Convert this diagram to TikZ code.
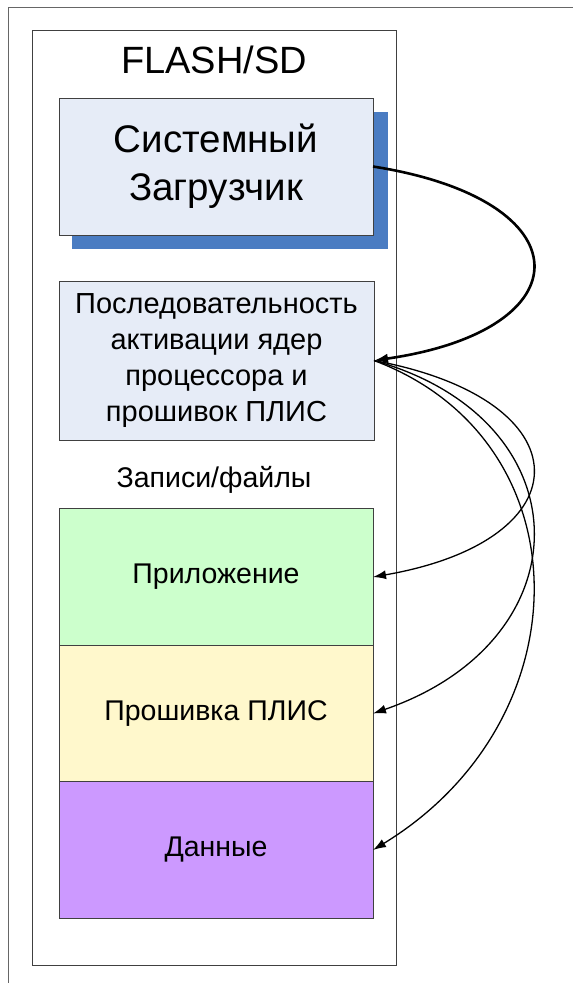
\documentclass[tikz,border=0pt]{standalone}
\usepackage{fontspec}
\setmainfont{Liberation Sans}
\usetikzlibrary{arrows.meta,positioning}

\definecolor{bootblue}{HTML}{E6ECF7}
\definecolor{shadowblue}{HTML}{4A7CC2}
\definecolor{appgreen}{HTML}{CCFFCC}
\definecolor{fpgayellow}{HTML}{FFF8CC}
\definecolor{datapurple}{HTML}{CC99FF}

\begin{document}
\begin{tikzpicture}[x=1pt,y=-1pt,
  blk/.style={draw=black!75,line width=0.8pt,inner sep=0pt,outer sep=0pt,align=center},
  rec/.style={blk,minimum width=314pt,minimum height=136.5pt,font=\fontsize{28.5}{34}\selectfont},
  link/.style={-{Latex[length=13pt,width=9pt]},line width=1.3pt},
  mainlink/.style={-{Latex[length=14pt,width=10pt]},line width=2.6pt}]
\useasboundingbox (0,0) rectangle (573,983);

% frame and container
\draw[black!60,line width=1pt] (8,983) -- (8,7) -- (573,7);
\draw[black!75,line width=0.8pt] (32,30) rectangle (396,965);
\node (flash) at (214,60) {\fontsize{38}{44}\selectfont FLASH/SD};

% boot loader with shadow
\fill[shadowblue] (72,112) rectangle (388,249);
\node[blk,fill=bootblue,minimum width=314pt,minimum height=137pt,
  font=\fontsize{38.5}{48}\selectfont] (boot) at (216,166.5) {Системный\\Загрузчик};

% activation sequence
\node[blk,fill=bootblue,minimum width=315pt,minimum height=159pt,
  font=\fontsize{29}{35.7}\selectfont] (seq) at (216.5,360.5)
  {Последовательность\\активации ядер\\процессора и\\прошивок ПЛИС};

\node[font=\fontsize{28.5}{34}\selectfont] (recs) at (214,480) {Записи/файлы};

% records
\node[rec,fill=appgreen] (app) at (216,577) {Приложение};
\node[rec,fill=fpgayellow,below=0pt of app] (fpga) {Прошивка ПЛИС};
\node[rec,fill=datapurple,below=0pt of fpga] (data) {Данные};

% links
\draw[mainlink] (boot.east) .. controls (586,200) and (586,330) .. (seq.east);
\draw[link] (seq.east) .. controls (586,400) and (586,540) .. (app.east);
\draw[link] (seq.east) .. controls (586,420) and (586,640) .. (fpga.east);
\draw[link] (seq.east) .. controls (586,440) and (586,720) .. (data.east);
\end{tikzpicture}
\end{document}
